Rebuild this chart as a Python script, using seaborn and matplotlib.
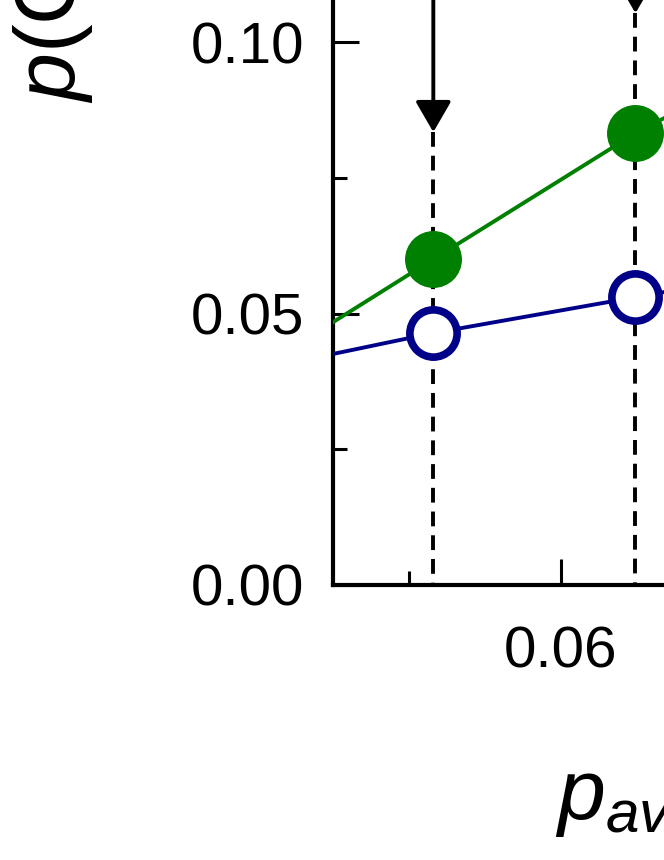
import numpy as np
import pandas as pd
import matplotlib
matplotlib.use("Agg")
import matplotlib.pyplot as plt
from matplotlib.ticker import MultipleLocator, FormatStrFormatter
import seaborn as sns

# values
p_av = [0.0384, 0.0516, 0.0649, 0.0781]
pc_green = [0.0368, 0.0600, 0.0832, 0.1027]
pc_blue = [0.0387, 0.0464, 0.0530, 0.0596]
arrow_x = [0.0516, 0.0649]
arrow_tip = [0.0834, 0.1053]

x_ticks_major = [0.04, 0.06, 0.08]
y_ticks_major = [0.00, 0.05, 0.10, 0.15]

sns.set_style("ticks")
plt.rcParams["font.family"] = ["Liberation Sans", "DejaVu Sans"]
plt.rcParams["mathtext.fontset"] = "custom"
plt.rcParams["mathtext.rm"] = "Liberation Sans"
plt.rcParams["mathtext.it"] = "Liberation Sans:italic"
for key in ["text.color", "axes.labelcolor", "xtick.color", "ytick.color",
            "xtick.labelcolor", "ytick.labelcolor"]:
    plt.rcParams[key] = "black"

df = pd.DataFrame({"p_av": p_av, "green": pc_green, "blue": pc_blue})

fig = plt.figure(figsize=(6.64, 8.60), dpi=100)
# the axes runs past the top and right edges of the figure (cropped view)
ax = fig.add_axes([333 / 664, 275 / 860, 608 / 664, 868.8 / 860])

# dashed guide lines, drawn from the arrow tip downwards
ax.vlines(arrow_x, ymin=arrow_tip, ymax=[0, 0], colors="black",
          linewidth=2.8, linestyles=[(0, (3.8, 2.3))], zorder=1)

for x, tip in zip(arrow_x, arrow_tip):
    ax.annotate("", xy=(x, tip), xytext=(x, 0.16),
                arrowprops=dict(arrowstyle="-|>,head_length=1.9,head_width=1.1",
                                mutation_scale=10, color="black", lw=2.8,
                                shrinkA=0, shrinkB=0),
                zorder=2)

sns.lineplot(data=df, x="p_av", y="green", ax=ax, color="#008000", marker="o")
green_line = ax.lines[-1]
green_line.set_linewidth(2.8)
green_line.set_markersize(41)
green_line.set_markerfacecolor("#008000")
green_line.set_markeredgewidth(0)
green_line.set_zorder(3)

sns.lineplot(data=df, x="p_av", y="blue", ax=ax, color="#000088", marker="o")
blue_line = ax.lines[-1]
blue_line.set_linewidth(2.8)
blue_line.set_markersize(34)
blue_line.set_markerfacecolor("white")
blue_line.set_markeredgecolor("#000088")
blue_line.set_markeredgewidth(5.5)
blue_line.set_zorder(3)

ax.set_xticks(x_ticks_major)
ax.set_yticks(y_ticks_major)
ax.xaxis.set_minor_locator(MultipleLocator(0.01))
ax.yaxis.set_minor_locator(MultipleLocator(0.025))
ax.xaxis.set_major_formatter(FormatStrFormatter("%.2f"))
ax.yaxis.set_major_formatter(FormatStrFormatter("%.2f"))
ax.set_xlim(0.045, 0.085)
ax.set_ylim(0.0, 0.16)

ax.tick_params(which="both", direction="in", width=2.2, color="black")
ax.tick_params(which="major", length=19, labelsize=42)
ax.tick_params(which="minor", length=10)
ax.tick_params(axis="y", which="major", pad=21)
ax.tick_params(axis="x", which="major", pad=29)

for side in ["left", "bottom", "top", "right"]:
    ax.spines[side].set_linewidth(3)
    ax.spines[side].set_color("black")

ax.set_xlabel(r"$p_{av}$", fontsize=62, ha="left", va="top")
ax.xaxis.set_label_coords(222 / 608, -174 / 868.8)
ax.set_ylabel(r"$p$(C)", fontsize=62)
ax.yaxis.set_label_coords(-238 / 608, 565 / 868.8)

fig.savefig("out.png", dpi=100)
